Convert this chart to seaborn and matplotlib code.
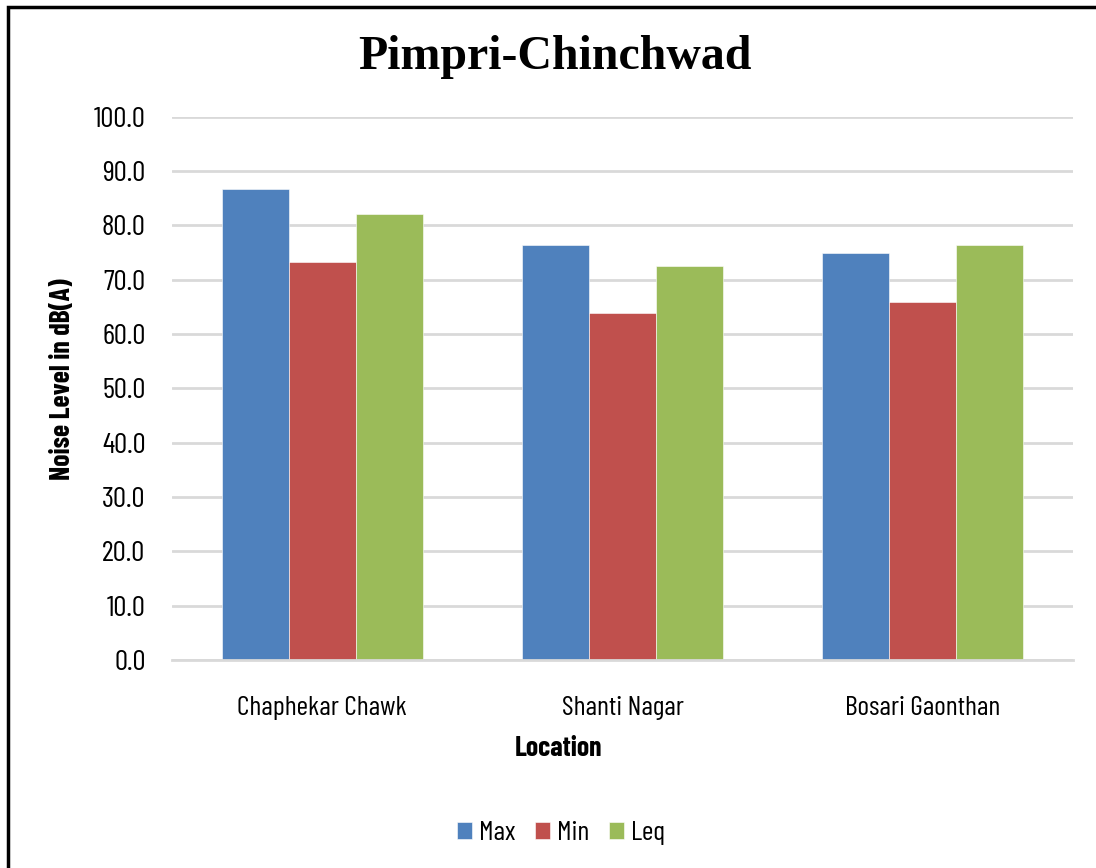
import numpy as np
import pandas as pd
import seaborn as sns
import matplotlib.pyplot as plt
from matplotlib.patches import Rectangle

locations = ["Chaphekar Chawk", "Shanti Nagar", "Bosari Gaonthan"]
max_vals = [86.7, 76.4, 74.8]
min_vals = [73.2, 63.8, 65.9]
leq_vals = [82.1, 72.5, 76.3]
series = ["Max", "Min", "Leq"]
colors = ["#4F81BD", "#C0504D", "#9BBB59"]

df = pd.DataFrame({
    "Location": locations * 3,
    "Level": max_vals + min_vals + leq_vals,
    "Series": [s for s in series for _ in locations],
})

sns.set_theme(style="white")
# condensed face close to the original; falls back to DejaVu if missing
plt.rcParams["font.family"] = ["Barlow Condensed", "DejaVu Sans"]
plt.rcParams["text.color"] = "black"
plt.rcParams["axes.labelcolor"] = "black"
plt.rcParams["xtick.color"] = "black"
plt.rcParams["ytick.color"] = "black"

fig = plt.figure(figsize=(10.96, 8.68), dpi=100)
ax = fig.add_axes([172 / 1096, 1 - 660 / 868, (1073 - 172) / 1096, (660 - 116.5) / 868])

sns.barplot(data=df, x="Location", y="Level", hue="Series", palette=colors,
            width=0.67, saturation=1, ax=ax, edgecolor="white", linewidth=0.4)

ax.set_ylim(0, 100)
ax.set_yticks(np.arange(0, 101, 10))
ax.set_yticklabels([f"{v:.1f}" for v in np.arange(0, 101, 10)], fontsize=21)
ax.tick_params(axis="y", length=0, pad=19)
ax.tick_params(axis="x", length=0, pad=26, labelsize=20)
ax.yaxis.grid(True, color="#d9d9d9", linewidth=2)
ax.set_axisbelow(True)
for side in ["top", "right", "left"]:
    ax.spines[side].set_visible(False)
ax.spines["bottom"].set_color("#d9d9d9")
ax.spines["bottom"].set_linewidth(2)

ax.set_xlabel("Location", fontsize=20, fontweight="bold")
ax.set_ylabel("Noise Level in dB(A)", fontsize=20, fontweight="bold")
ax.xaxis.set_label_coords((558 - 172) / 901, -(736 - 660) / 543.5)
ax.yaxis.set_label_coords(-(172 - 75) / 901, (660 - 379) / 543.5)

fig.text(555 / 1096, 1 - 57 / 868, "Pimpri-Chinchwad", ha="center", va="center",
         fontsize=34.5, fontweight="bold", family="Liberation Serif")

ax.legend(loc="center", bbox_to_anchor=(561 / 1096, 1 - 833 / 868),
          bbox_transform=fig.transFigure, ncol=3, frameon=False, fontsize=20,
          handlelength=0.55, handleheight=0.55, handletextpad=0.25, columnspacing=0.7)

fig.patches.append(Rectangle((8 / 1096, -0.1), 1.2, 1.1 - 7 / 868, transform=fig.transFigure,
                             fill=False, edgecolor="black", linewidth=2.5, clip_on=False))

fig.savefig("out.png", dpi=100)
